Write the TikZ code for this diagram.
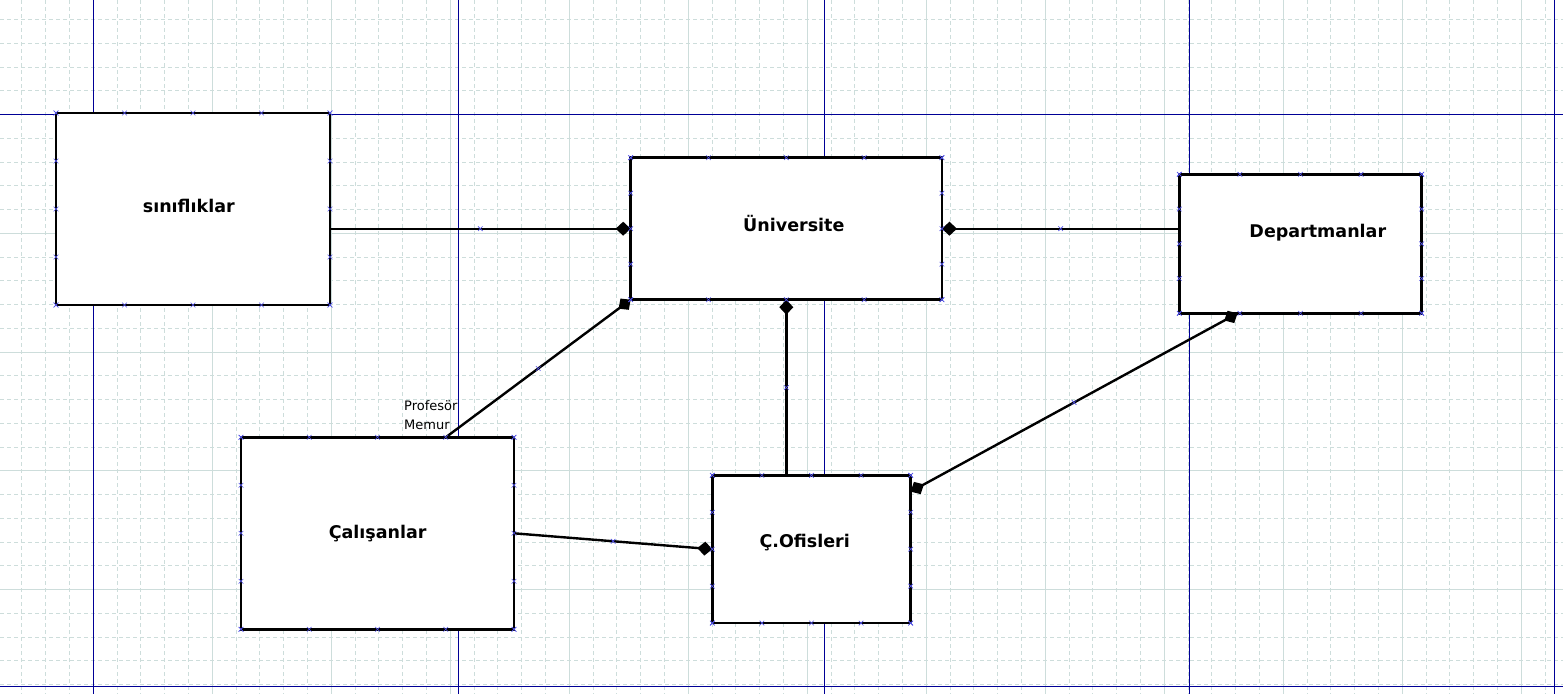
\documentclass[tikz,border=0pt]{standalone}
\usepackage{fontspec}
\setmainfont{DejaVu Sans}
\usetikzlibrary{arrows.meta,calc,shapes.misc}

\definecolor{gridcol}{RGB}{205,221,219}
\definecolor{pagecol}{RGB}{0,0,150}
\definecolor{handlecol}{RGB}{80,80,230}

\tikzset{
  entity/.style={draw, line width=2.6pt, fill=white, outer sep=0pt, inner sep=0pt},
  name lbl/.style={inner sep=0pt, text height=13pt, text depth=0pt,
    font=\fontsize{17.5}{20}\selectfont\bfseries},
  role/.style={align=left, inner sep=0pt, font=\fontsize{13}{19}\selectfont},
  link/.style={line width=2.4pt, -{Diamond[length=15pt,width=14pt]}},
  link both/.style={line width=2.4pt,
    {Diamond[length=15pt,width=14pt]}-{Diamond[length=15pt,width=14pt]}},
  handle/.style={cross out, draw=handlecol, line width=0.6pt, minimum size=4pt, inner sep=0pt},
  minor/.style={gridcol, line width=1pt, dash pattern=on 4pt off 3pt},
  major/.style={gridcol, line width=1pt},
  page/.style={pagecol, line width=1pt},
}

\newcommand\handles[1]{%
  \foreach \f in {0,0.25,0.5,0.75,1}{
    \node[handle] at ($(#1.north west)!\f!(#1.north east)$) {};
    \node[handle] at ($(#1.south west)!\f!(#1.south east)$) {};
    \node[handle] at ($(#1.north west)!\f!(#1.south west)$) {};
    \node[handle] at ($(#1.north east)!\f!(#1.south east)$) {};
  }}

\begin{document}
\begin{tikzpicture}[x=1pt, y=-1pt]
  \fill[white] (0,0) rectangle (1563,694);
  \useasboundingbox (0,0) rectangle (1563,694);

  % grid
  \foreach \k in {-3,...,61}{
    \pgfmathtruncatemacro\m{mod(\k+100,5)}
    \ifnum\m=0 \draw[major] (\k*23.8+93.3,0) -- (\k*23.8+93.3,694);
    \else \draw[minor] (\k*23.8+93.3,0) -- (\k*23.8+93.3,694); \fi
  }
  \foreach \k in {-4,...,24}{
    \pgfmathtruncatemacro\m{mod(\k+100,5)}
    \ifnum\m=0 \draw[major] (0,\k*23.75+114.7) -- (1563,\k*23.75+114.7);
    \else \draw[minor] (0,\k*23.75+114.7) -- (1563,\k*23.75+114.7); \fi
  }
  \foreach \x in {93.3,458.3,824,1189.3,1554.5}
    \draw[page] (\x,0) -- (\x,694);
  \foreach \y in {114.3,686.5}
    \draw[page] (0,\y) -- (1563,\y);

  \node[entity, minimum width=274pt, minimum height=192pt,
    label={[name lbl, xshift=-4.2pt, yshift=2.8pt]center:sınıflıklar}]
    (sinif) at (193,209) {};
  \node[entity, minimum width=311.3pt, minimum height=142pt,
    label={[name lbl, xshift=7.5pt, yshift=3.5pt]center:Üniversite}]
    (univ) at (786.3,228.7) {};
  \node[entity, minimum width=242.4pt, minimum height=139pt,
    label={[name lbl, xshift=17.3pt, yshift=13pt]center:Departmanlar}]
    (dept) at (1300.5,243.8) {};
  \node[entity, minimum width=273pt, minimum height=192pt,
    label={[name lbl, xshift=0.2pt, yshift=1.5pt]center:Çalışanlar}]
    (calis) at (377.5,533.3) {};
  \node[entity, minimum width=198.4pt, minimum height=147.7pt,
    label={[name lbl, xshift=-6.8pt, yshift=8pt]center:Ç.Ofisleri}]
    (ofis) at (811.5,549.2) {};

  \draw[link] (sinif.east |- univ.west) -- node[handle]{} (univ.west);
  \draw[link] (dept.west |- univ.east) -- node[handle]{} (univ.east);
  \draw[link] ($(calis.north west)!0.75!(calis.north east)$)
    -- node[handle]{} (univ.south west);
  \draw[link] (ofis.north -| univ.south) -- node[handle]{} (univ.south);
  \draw[link] (calis.east) -- node[handle]{} (ofis.west);
  \draw[link both] ($(ofis.north east)!0.11!(ofis.south east)$)
    -- node[handle]{} ($(dept.south west)!0.24!(dept.south east)$);

  \handles{sinif}
  \handles{univ}
  \handles{dept}
  \handles{calis}
  \handles{ofis}

  \node[role, anchor=north west] (roles) at (404,400) {Profesör\\Memur};
\end{tikzpicture}
\end{document}
